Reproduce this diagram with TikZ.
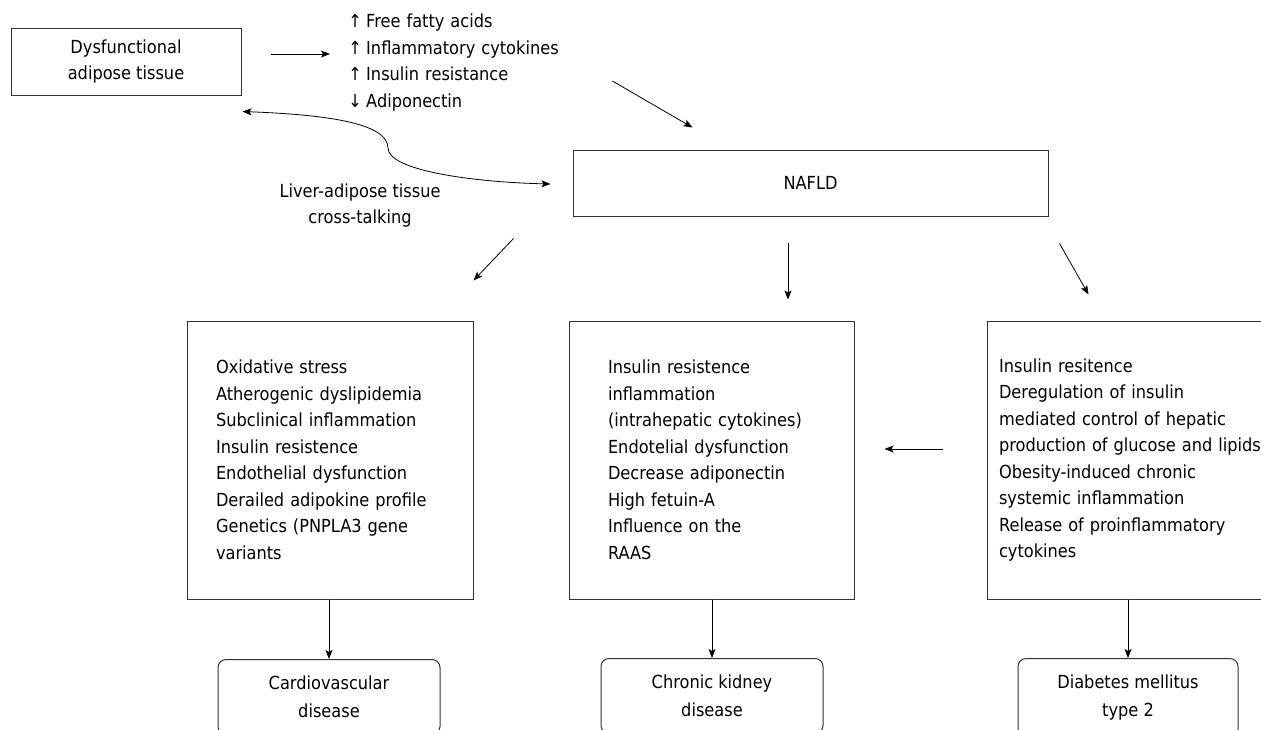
\documentclass[tikz,border=0pt]{standalone}
\usepackage{fontspec}
\setmainfont{DejaVu Sans}[FakeStretch=0.9]
\usetikzlibrary{arrows.meta,positioning}

\newcommand{\incr}{\makebox[10pt][c]{↑}}
\newcommand{\decr}{\makebox[10pt][c]{↓}}

\begin{document}
\begin{tikzpicture}[x=1pt,y=-1pt,
    every node/.style={font=\fontsize{18}{26.5}\selectfont, inner sep=0pt},
    box/.style={draw=black!80, line width=1pt, rectangle},
    factors/.style={box, minimum height=278pt, align=left},
    outcome/.style={draw=black!80, line width=1pt, rounded corners=8pt,
        minimum width=222pt, inner ysep=16.5pt, align=center, anchor=north,
        font=\fontsize{18}{28}\selectfont},
    arr/.style={-{Stealth[length=9pt,width=7pt,inset=2pt]}, line width=0.8pt},
    arrboth/.style={{Stealth[length=9pt,width=7pt,inset=2pt]}-{Stealth[length=9pt,width=7pt,inset=2pt]}, line width=0.8pt}]

    % Frame of the picture
    \clip (0,0) rectangle (1261,729);

    % Top row: adipose tissue, its effects, NAFLD
    \node[box, minimum width=230pt, minimum height=67pt, align=center] (dys) at (126,61.5)
        {Dysfunctional\\adipose tissue};
    \node[anchor=west, text width=240pt, align=left] (effects) at (350,62.5)
        {\incr{} Free fatty acids\\\incr{} Inflammatory cytokines\\\incr{} Insulin resistance\\\decr{} Adiponectin};
    \node[box, minimum width=475pt, minimum height=66pt] (nafld) at (810.5,183) {NAFLD};
    \node[align=center] (cross) at (360,205.5) {Liver-adipose tissue\\cross-talking};
    \coordinate (bend) at (388,148);

    % Middle row: mechanisms
    \node[factors, inner xsep=29pt, text width=228pt] (cvfac) at (330,460)
        {Oxidative stress\\Atherogenic dyslipidemia\\Subclinical inflammation\\Insulin resistence\\Endothelial dysfunction\\Derailed adipokine profile\\Genetics (PNPLA3 gene\\variants};
    \node[factors, inner xsep=39pt, text width=207pt] (ckdfac) at (711.5,460)
        {Insulin resistence\\inflammation\\(intrahepatic cytokines)\\Endotelial dysfunction\\Decrease adiponectin\\High fetuin-A\\Influence on the\\RAAS};
    \node[factors, inner xsep=12pt, text width=279pt] (dmfac) at (1138.5,460)
        {Insulin resitence\\Deregulation of insulin\\mediated control of hepatic\\production of glucose and lipids\\Obesity-induced chronic\\systemic inflammation\\Release of proinflammatory\\cytokines};

    % Bottom row: diseases
    \node[outcome] (cvd) at (329,659) {Cardiovascular\\disease};
    \node[outcome] (ckd) at (712,658) {Chronic kidney\\disease};
    \node[outcome, minimum width=220pt] (dm) at (1128,658) {Diabetes mellitus\\type 2};

    % Arrows of the top row
    \draw[arr] ([shift={(29,-7.5)}]dys.east) -- ([shift={(-20,-8.5)}]effects.west);
    \draw[arr] ([shift={(22,18.5)}]effects.east) -- ([shift={(120,-22)}]nafld.north west);
    \draw[arrboth] ([shift={(1,16)}]dys.south east) .. controls +(78,3) and +(0,-26) .. (bend)
        .. controls +(0,22) and +(-81,-2) .. ([shift={(-22,1)}]nafld.west);

    % Arrows from NAFLD
    \draw[arr] ([shift={(-59,22)}]nafld.south west) -- ([shift={(0,-40)}]cvfac.north east);
    \draw[arr] ([shift={(-22.5,26)}]nafld.south) -- ([shift={(76.5,-21)}]ckdfac.north);
    \draw[arr] ([shift={(11,27)}]nafld.south east) -- ([shift={(102,-26)}]dmfac.north west);
    \draw[arr] ([shift={(-44,-11)}]dmfac.west) -- ([shift={(30,-11)}]ckdfac.east);

    % Arrows to the diseases
    \foreach \a/\b in {cvfac/cvd, ckdfac/ckd, dmfac/dm}
        \draw[arr] (\b.north |- \a.south) -- (\b.north);
\end{tikzpicture}
\end{document}
